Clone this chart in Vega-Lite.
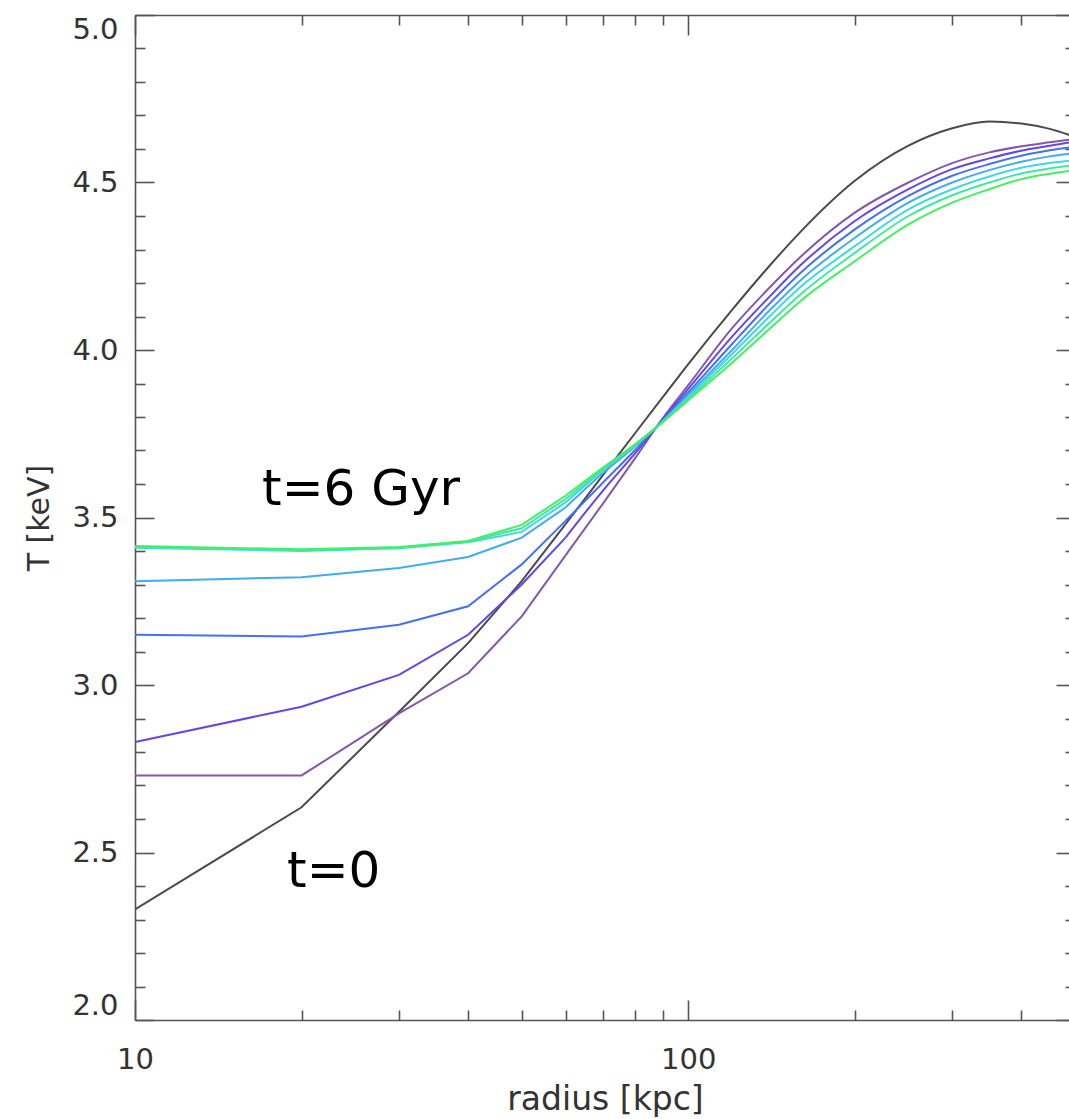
{
  "$schema": "https://vega.github.io/schema/vega-lite/v6.json",
  "width": 940,
  "height": 1005,
  "autosize": {"type": "none"},
  "padding": {"left": 135, "top": 15, "right": 0, "bottom": 99},
  "background": "white",
  "config": {
    "view": {"stroke": null},
    "axis": {
      "grid": false,
      "domainColor": "#555555",
      "domainWidth": 1.6,
      "tickColor": "#555555",
      "tickWidth": 1.6,
      "labelFont": "DejaVu Sans",
      "labelFontSize": 29,
      "labelColor": "#333333",
      "titleFont": "DejaVu Sans",
      "titleFontSize": 29,
      "titleFontWeight": "normal",
      "titleColor": "#333333",
      "labelOverlap": false
    }
  },
  "datasets": {
    "curves": [
      {"r": 10, "T": 2.33, "s": "t0"}, {"r": 20, "T": 2.635, "s": "t0"}, {"r": 30, "T": 2.92, "s": "t0"}, {"r": 40, "T": 3.125, "s": "t0"}, {"r": 50, "T": 3.31, "s": "t0"}, {"r": 60, "T": 3.48, "s": "t0"}, {"r": 70, "T": 3.625, "s": "t0"}, {"r": 80, "T": 3.75, "s": "t0"}, {"r": 90, "T": 3.86, "s": "t0"}, {"r": 100, "T": 3.958, "s": "t0"}, {"r": 120, "T": 4.12, "s": "t0"}, {"r": 140, "T": 4.25, "s": "t0"}, {"r": 160, "T": 4.355, "s": "t0"}, {"r": 200, "T": 4.505, "s": "t0"}, {"r": 250, "T": 4.61, "s": "t0"}, {"r": 300, "T": 4.662, "s": "t0"}, {"r": 350, "T": 4.682, "s": "t0"}, {"r": 400, "T": 4.676, "s": "t0"}, {"r": 450, "T": 4.66, "s": "t0"}, {"r": 500, "T": 4.636, "s": "t0"},
      {"r": 10, "T": 2.73, "s": "c1"}, {"r": 20, "T": 2.73, "s": "c1"}, {"r": 30, "T": 2.915, "s": "c1"}, {"r": 40, "T": 3.035, "s": "c1"}, {"r": 50, "T": 3.205, "s": "c1"}, {"r": 60, "T": 3.387, "s": "c1"}, {"r": 70, "T": 3.54, "s": "c1"}, {"r": 80, "T": 3.675, "s": "c1"}, {"r": 90, "T": 3.797, "s": "c1"}, {"r": 100, "T": 3.895, "s": "c1"}, {"r": 120, "T": 4.065, "s": "c1"}, {"r": 140, "T": 4.185, "s": "c1"}, {"r": 160, "T": 4.28, "s": "c1"}, {"r": 200, "T": 4.41, "s": "c1"}, {"r": 250, "T": 4.5, "s": "c1"}, {"r": 300, "T": 4.558, "s": "c1"}, {"r": 350, "T": 4.59, "s": "c1"}, {"r": 400, "T": 4.608, "s": "c1"}, {"r": 450, "T": 4.62, "s": "c1"}, {"r": 500, "T": 4.63, "s": "c1"},
      {"r": 10, "T": 2.83, "s": "c2"}, {"r": 20, "T": 2.935, "s": "c2"}, {"r": 30, "T": 3.03, "s": "c2"}, {"r": 40, "T": 3.15, "s": "c2"}, {"r": 50, "T": 3.3, "s": "c2"}, {"r": 60, "T": 3.44, "s": "c2"}, {"r": 70, "T": 3.579, "s": "c2"}, {"r": 80, "T": 3.69, "s": "c2"}, {"r": 90, "T": 3.794, "s": "c2"}, {"r": 100, "T": 3.884, "s": "c2"}, {"r": 120, "T": 4.04, "s": "c2"}, {"r": 140, "T": 4.158, "s": "c2"}, {"r": 160, "T": 4.255, "s": "c2"}, {"r": 200, "T": 4.385, "s": "c2"}, {"r": 250, "T": 4.48, "s": "c2"}, {"r": 300, "T": 4.54, "s": "c2"}, {"r": 350, "T": 4.572, "s": "c2"}, {"r": 400, "T": 4.595, "s": "c2"}, {"r": 450, "T": 4.61, "s": "c2"}, {"r": 500, "T": 4.622, "s": "c2"},
      {"r": 10, "T": 3.15, "s": "c3"}, {"r": 20, "T": 3.145, "s": "c3"}, {"r": 30, "T": 3.18, "s": "c3"}, {"r": 40, "T": 3.235, "s": "c3"}, {"r": 50, "T": 3.36, "s": "c3"}, {"r": 60, "T": 3.49, "s": "c3"}, {"r": 70, "T": 3.603, "s": "c3"}, {"r": 80, "T": 3.7, "s": "c3"}, {"r": 90, "T": 3.791, "s": "c3"}, {"r": 100, "T": 3.873, "s": "c3"}, {"r": 120, "T": 4.018, "s": "c3"}, {"r": 140, "T": 4.137, "s": "c3"}, {"r": 160, "T": 4.232, "s": "c3"}, {"r": 200, "T": 4.36, "s": "c3"}, {"r": 250, "T": 4.46, "s": "c3"}, {"r": 300, "T": 4.52, "s": "c3"}, {"r": 350, "T": 4.555, "s": "c3"}, {"r": 400, "T": 4.58, "s": "c3"}, {"r": 450, "T": 4.596, "s": "c3"}, {"r": 500, "T": 4.607, "s": "c3"},
      {"r": 10, "T": 3.31, "s": "c4"}, {"r": 20, "T": 3.322, "s": "c4"}, {"r": 30, "T": 3.349, "s": "c4"}, {"r": 40, "T": 3.382, "s": "c4"}, {"r": 50, "T": 3.44, "s": "c4"}, {"r": 60, "T": 3.53, "s": "c4"}, {"r": 70, "T": 3.632, "s": "c4"}, {"r": 80, "T": 3.711, "s": "c4"}, {"r": 90, "T": 3.789, "s": "c4"}, {"r": 100, "T": 3.866, "s": "c4"}, {"r": 120, "T": 4.0, "s": "c4"}, {"r": 140, "T": 4.117, "s": "c4"}, {"r": 160, "T": 4.21, "s": "c4"}, {"r": 200, "T": 4.335, "s": "c4"}, {"r": 250, "T": 4.44, "s": "c4"}, {"r": 300, "T": 4.5, "s": "c4"}, {"r": 350, "T": 4.537, "s": "c4"}, {"r": 400, "T": 4.562, "s": "c4"}, {"r": 450, "T": 4.578, "s": "c4"}, {"r": 500, "T": 4.588, "s": "c4"},
      {"r": 10, "T": 3.41, "s": "c5"}, {"r": 20, "T": 3.4, "s": "c5"}, {"r": 30, "T": 3.408, "s": "c5"}, {"r": 40, "T": 3.426, "s": "c5"}, {"r": 50, "T": 3.457, "s": "c5"}, {"r": 60, "T": 3.545, "s": "c5"}, {"r": 70, "T": 3.64, "s": "c5"}, {"r": 80, "T": 3.714, "s": "c5"}, {"r": 90, "T": 3.787, "s": "c5"}, {"r": 100, "T": 3.86, "s": "c5"}, {"r": 120, "T": 3.988, "s": "c5"}, {"r": 140, "T": 4.099, "s": "c5"}, {"r": 160, "T": 4.19, "s": "c5"}, {"r": 200, "T": 4.31, "s": "c5"}, {"r": 250, "T": 4.42, "s": "c5"}, {"r": 300, "T": 4.48, "s": "c5"}, {"r": 350, "T": 4.518, "s": "c5"}, {"r": 400, "T": 4.544, "s": "c5"}, {"r": 450, "T": 4.558, "s": "c5"}, {"r": 500, "T": 4.567, "s": "c5"},
      {"r": 10, "T": 3.413, "s": "c6"}, {"r": 20, "T": 3.402, "s": "c6"}, {"r": 30, "T": 3.41, "s": "c6"}, {"r": 40, "T": 3.428, "s": "c6"}, {"r": 50, "T": 3.468, "s": "c6"}, {"r": 60, "T": 3.555, "s": "c6"}, {"r": 70, "T": 3.644, "s": "c6"}, {"r": 80, "T": 3.716, "s": "c6"}, {"r": 90, "T": 3.786, "s": "c6"}, {"r": 100, "T": 3.855, "s": "c6"}, {"r": 120, "T": 3.975, "s": "c6"}, {"r": 140, "T": 4.08, "s": "c6"}, {"r": 160, "T": 4.168, "s": "c6"}, {"r": 200, "T": 4.29, "s": "c6"}, {"r": 250, "T": 4.4, "s": "c6"}, {"r": 300, "T": 4.462, "s": "c6"}, {"r": 350, "T": 4.5, "s": "c6"}, {"r": 400, "T": 4.527, "s": "c6"}, {"r": 450, "T": 4.542, "s": "c6"}, {"r": 500, "T": 4.552, "s": "c6"},
      {"r": 10, "T": 3.415, "s": "c7"}, {"r": 20, "T": 3.405, "s": "c7"}, {"r": 30, "T": 3.412, "s": "c7"}, {"r": 40, "T": 3.43, "s": "c7"}, {"r": 50, "T": 3.478, "s": "c7"}, {"r": 60, "T": 3.565, "s": "c7"}, {"r": 70, "T": 3.648, "s": "c7"}, {"r": 80, "T": 3.718, "s": "c7"}, {"r": 90, "T": 3.785, "s": "c7"}, {"r": 100, "T": 3.85, "s": "c7"}, {"r": 120, "T": 3.962, "s": "c7"}, {"r": 140, "T": 4.062, "s": "c7"}, {"r": 160, "T": 4.148, "s": "c7"}, {"r": 200, "T": 4.265, "s": "c7"}, {"r": 250, "T": 4.375, "s": "c7"}, {"r": 300, "T": 4.44, "s": "c7"}, {"r": 350, "T": 4.48, "s": "c7"}, {"r": 400, "T": 4.51, "s": "c7"}, {"r": 450, "T": 4.526, "s": "c7"}, {"r": 500, "T": 4.537, "s": "c7"}
    ],
    "notes": [
      {"r": 16.97, "T": 3.537, "label": "t=6 Gyr"},
      {"r": 18.83, "T": 2.397, "label": "t=0"}
    ]
  },
  "data": {"name": "curves"},
  "layer": [
    {
      "transform": [{"filter": "datum.r <= 60"}],
      "mark": {"type": "line", "strokeWidth": 2, "clip": true},
      "encoding": {
        "x": {
          "field": "r", "type": "quantitative",
          "scale": {"type": "log", "domain": [10, 500], "nice": false},
          "axis": {
            "orient": "bottom", "values": [10, 100], "format": "d",
            "tickSize": -20, "labelPadding": 45, "labelFlush": false,
            "title": "radius [kpc]", "titlePadding": 9, "titleFontSize": 33
          }
        },
        "y": {
          "field": "T", "type": "quantitative",
          "scale": {"domain": [2, 5], "nice": false, "zero": false},
          "axis": {
            "orient": "left", "values": [2, 2.5, 3, 3.5, 4, 4.5, 5], "format": ".1f",
            "tickSize": -19, "labelPadding": 36, "labelFlush": true,
            "title": "T [keV]", "titlePadding": 17, "titleFontSize": 30
          }
        },
        "color": {
          "field": "s", "type": "nominal", "legend": null,
          "scale": {
            "domain": ["t0", "c1", "c2", "c3", "c4", "c5", "c6", "c7"],
            "range": ["#4a4a4a", "#8458a8", "#6444ec", "#4470f6", "#40acf6", "#40d8e8", "#40e8a0", "#44f060"]
          }
        }
      }
    },
    {
      "transform": [{"filter": "datum.r >= 60"}],
      "mark": {"type": "line", "strokeWidth": 2, "interpolate": "monotone", "clip": true},
      "encoding": {
        "x": {"field": "r", "type": "quantitative", "scale": {"type": "log", "domain": [10, 500], "nice": false}, "axis": null},
        "y": {"field": "T", "type": "quantitative", "scale": {"domain": [2, 5], "nice": false, "zero": false}, "axis": null},
        "color": {"field": "s", "type": "nominal", "legend": null}
      }
    },
    {
      "mark": {"type": "point", "opacity": 0, "size": 0},
      "encoding": {
        "x": {"field": "r", "type": "quantitative", "scale": {"type": "log", "domain": [10, 500], "nice": false},
          "axis": {"orient": "bottom", "values": [20, 30, 40, 50, 60, 70, 80, 90, 200, 300, 400], "tickSize": -10, "labels": false, "domain": false, "title": null}},
        "y": {"field": "T", "type": "quantitative", "scale": {"domain": [2, 5], "nice": false, "zero": false},
          "axis": {"orient": "left", "values": [2.1, 2.2, 2.3, 2.4, 2.6, 2.7, 2.8, 2.9, 3.1, 3.2, 3.3, 3.4, 3.6, 3.7, 3.8, 3.9, 4.1, 4.2, 4.3, 4.4, 4.6, 4.7, 4.8, 4.9], "tickSize": -10, "labels": false, "domain": false, "title": null}}
      }
    },
    {
      "mark": {"type": "point", "opacity": 0, "size": 0},
      "encoding": {
        "x": {"field": "r", "type": "quantitative", "scale": {"type": "log", "domain": [10, 500], "nice": false},
          "axis": {"orient": "top", "values": [10, 100], "tickSize": -20, "labels": false, "title": null}},
        "y": {"field": "T", "type": "quantitative", "scale": {"domain": [2, 5], "nice": false, "zero": false},
          "axis": {"orient": "right", "values": [2, 2.5, 3, 3.5, 4, 4.5, 5], "tickSize": -19, "labels": false, "title": null}}
      }
    },
    {
      "mark": {"type": "point", "opacity": 0, "size": 0},
      "encoding": {
        "x": {"field": "r", "type": "quantitative", "scale": {"type": "log", "domain": [10, 500], "nice": false},
          "axis": {"orient": "top", "values": [20, 30, 40, 50, 60, 70, 80, 90, 200, 300, 400], "tickSize": -10, "labels": false, "domain": false, "title": null}},
        "y": {"field": "T", "type": "quantitative", "scale": {"domain": [2, 5], "nice": false, "zero": false},
          "axis": {"orient": "right", "values": [2.1, 2.2, 2.3, 2.4, 2.6, 2.7, 2.8, 2.9, 3.1, 3.2, 3.3, 3.4, 3.6, 3.7, 3.8, 3.9, 4.1, 4.2, 4.3, 4.4, 4.6, 4.7, 4.8, 4.9], "tickSize": -10, "labels": false, "domain": false, "title": null}}
      }
    },
    {
      "data": {"name": "notes"},
      "mark": {"type": "text", "align": "left", "baseline": "alphabetic", "font": "DejaVu Sans", "fontSize": 50, "color": "#000000"},
      "encoding": {
        "x": {"field": "r", "type": "quantitative", "scale": {"type": "log", "domain": [10, 500], "nice": false}, "axis": null},
        "y": {"field": "T", "type": "quantitative", "scale": {"domain": [2, 5], "nice": false, "zero": false}, "axis": null},
        "text": {"field": "label"}
      }
    }
  ],
  "resolve": {"axis": {"x": "independent", "y": "independent"}}
}
